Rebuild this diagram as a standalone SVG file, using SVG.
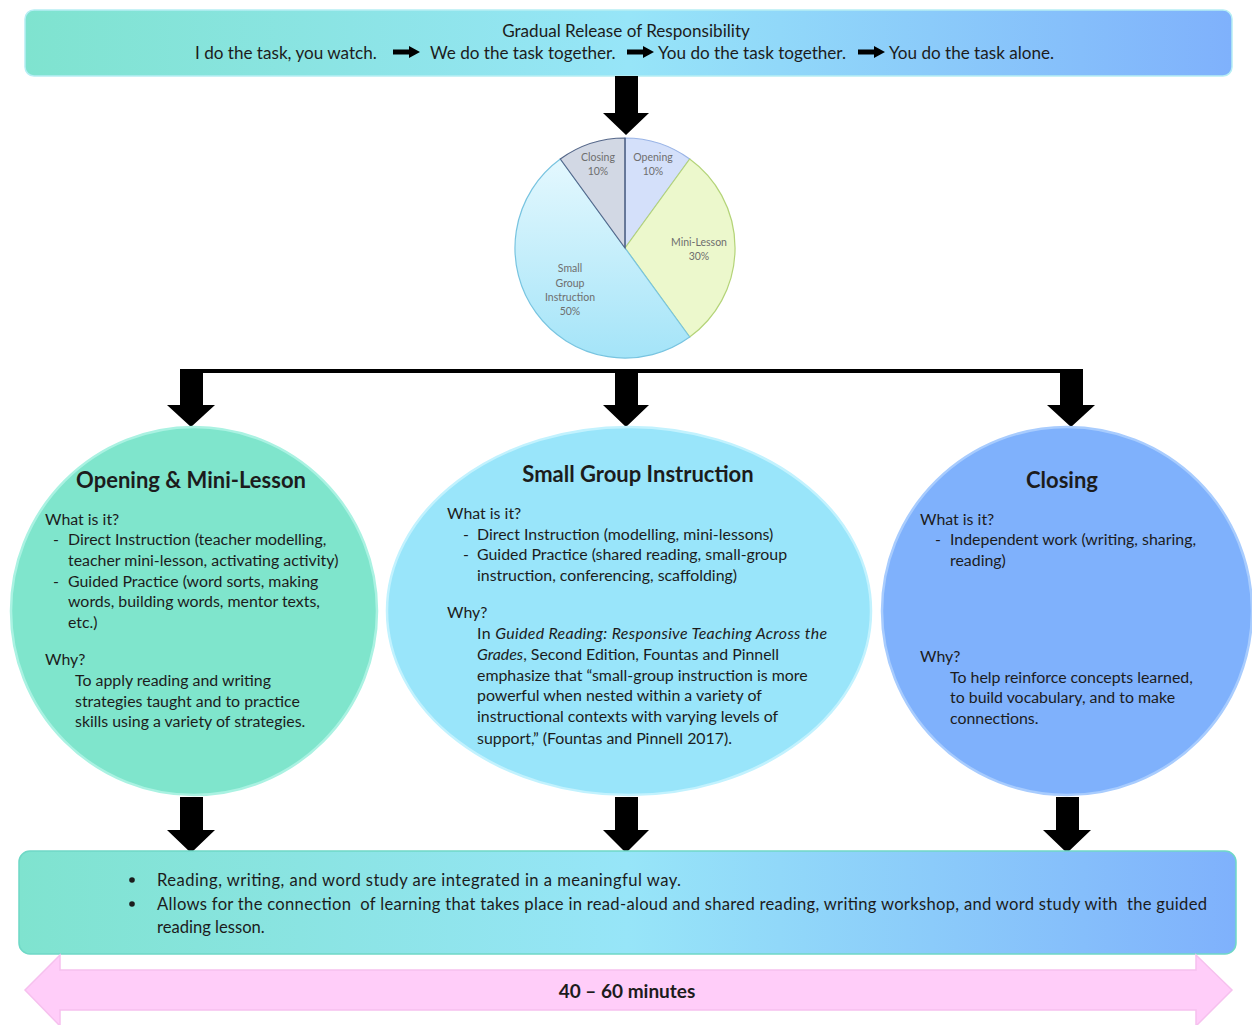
<svg xmlns="http://www.w3.org/2000/svg" xmlns:xlink="http://www.w3.org/1999/xlink" width="1252" height="1025" viewBox="0 0 1252 1025">
<defs>
<linearGradient id="band" x1="0" y1="0" x2="1" y2="0">
<stop offset="0" stop-color="#7fe3cf"/>
<stop offset="0.5" stop-color="#97e5f8"/>
<stop offset="1" stop-color="#7fb1fc"/>
</linearGradient>
<linearGradient id="sg" x1="0" y1="0" x2="0" y2="1">
<stop offset="0" stop-color="#e4f8fe"/>
<stop offset="1" stop-color="#a4e4f8"/>
</linearGradient>
<path id="sa" d="M0,-2.6 L16,-2.6 L16,-6 L27,0 L16,6 L16,2.6 L0,2.6 Z" fill="#000"/>
<style>
text{font-family:Lato,"Liberation Sans",sans-serif;fill:#1c1c1c}
.b{font-size:15.9px}
.t{font-size:22px;font-weight:bold;text-anchor:middle}
.pl{font-size:10.5px;fill:#6e6e6e;text-anchor:middle}
.h{font-size:16.6px}
.h2{font-size:17.1px}
.arr{fill:#000}
</style>
</defs>
<rect width="1252" height="1025" fill="#fff"/>

<g id="banner-top">
<rect x="25" y="10" width="1207" height="66" rx="9" fill="url(#band)" stroke="#b6eef4" stroke-width="1.5"/>
<text class="h2" x="626" y="37" text-anchor="middle">Gradual Release of Responsibility</text>
<text class="h2" x="195" y="59">I do the task, you watch.</text>
<use href="#sa" x="393" y="52"/>
<text class="h2" x="430" y="59">We do the task together.</text>
<use href="#sa" x="627" y="52"/>
<text class="h2" x="658" y="59">You do the task together.</text>
<use href="#sa" x="858" y="52"/>
<text class="h2" x="889" y="59">You do the task alone.</text>
</g>

<g id="pie">
<path d="M625,248 L625,138 A110,110 0 0 1 689.7,159 Z" fill="#d4e0fa" stroke="#9ab4e6" stroke-width="1.2"/>
<path d="M625,248 L689.7,159 A110,110 0 0 1 689.7,337 Z" fill="#ecf8cc" stroke="#b4d478" stroke-width="1.2"/>
<path d="M625,248 L689.7,337 A110,110 0 0 1 560.3,159 Z" fill="url(#sg)" stroke="#78c4e0" stroke-width="1.2"/>
<path d="M625,248 L560.3,159 A110,110 0 0 1 625,138 Z" fill="#d2d8e4" stroke="#56688a" stroke-width="1.2"/>
<line x1="625" y1="138" x2="625" y2="248" stroke="#56688a" stroke-width="1.2"/>
<text class="pl" x="598" y="161">Closing</text>
<text class="pl" x="598" y="175">10%</text>
<text class="pl" x="653" y="161">Opening</text>
<text class="pl" x="653" y="175">10%</text>
<text class="pl" x="699" y="246">Mini-Lesson</text>
<text class="pl" x="699" y="260">30%</text>
<text class="pl" x="570" y="272">Small</text>
<text class="pl" x="570" y="287">Group</text>
<text class="pl" x="570" y="301">Instruction</text>
<text class="pl" x="570" y="315">50%</text>
</g>

<g id="connectors">
<path class="arr" d="M615,76 L638,76 L638,113 L649,113 L626,135 L603,113 L615,113 Z"/>
<rect class="arr" x="180" y="369" width="903" height="4"/>
<path class="arr" d="M180,369 L203,369 L203,405 L215,405 L191,427 L167,405 L180,405 Z"/>
<path class="arr" d="M615,371 L638,371 L638,405 L649,405 L626,427 L603,405 L615,405 Z"/>
<path class="arr" d="M1060,369 L1083,369 L1083,405 L1095,405 L1071,427 L1047,405 L1060,405 Z"/>
<path class="arr" d="M180,797 L203,797 L203,830 L215,830 L191,853 L167,830 L180,830 Z"/>
<path class="arr" d="M615,797 L638,797 L638,830 L649,830 L626,853 L603,830 L615,830 Z"/>
<path class="arr" d="M1056,797 L1079,797 L1079,830 L1091,830 L1067,853 L1043,830 L1056,830 Z"/>
</g>

<g id="node-opening">
<ellipse cx="194" cy="611" rx="183" ry="184" fill="#7fe5cc" stroke="#aaf2e2" stroke-width="2.5"/>
<text class="t" x="191" y="488">Opening &amp; Mini-Lesson</text>
<text class="b" x="45" y="525">What is it?</text>
<text class="b" x="53" y="545">-</text>
<text class="b" x="68" y="545">Direct Instruction (teacher modelling,</text>
<text class="b" x="68" y="566">teacher mini-lesson, activating activity)</text>
<text class="b" x="53" y="587">-</text>
<text class="b" x="68" y="587">Guided Practice (word sorts, making</text>
<text class="b" x="68" y="607">words, building words, mentor texts,</text>
<text class="b" x="68" y="628">etc.)</text>
<text class="b" x="45" y="665">Why?</text>
<text class="b" x="75" y="686">To apply reading and writing</text>
<text class="b" x="75" y="707">strategies taught and to practice</text>
<text class="b" x="75" y="727">skills using a variety of strategies.</text>
</g>

<g id="node-small-group">
<ellipse cx="629" cy="611" rx="242" ry="184" fill="#99e5fa" stroke="#c2f2fe" stroke-width="2.5"/>
<text class="t" x="638" y="482">Small Group Instruction</text>
<text class="b" x="447" y="519">What is it?</text>
<text class="b" x="463" y="540">-</text>
<text class="b" x="477" y="540">Direct Instruction (modelling, mini-lessons)</text>
<text class="b" x="463" y="560">-</text>
<text class="b" x="477" y="560">Guided Practice (shared reading, small-group</text>
<text class="b" x="477" y="581">instruction, conferencing, scaffolding)</text>
<text class="b" x="447" y="618">Why?</text>
<text class="b" x="477" y="639" textLength="350" lengthAdjust="spacing">In <tspan font-style="italic">Guided Reading: Responsive Teaching Across the</tspan></text>
<text class="b" x="477" y="660"><tspan font-style="italic">Grades</tspan>, Second Edition, Fountas and Pinnell</text>
<text class="b" x="477" y="681">emphasize that “small-group instruction is more</text>
<text class="b" x="477" y="701">powerful when nested within a variety of</text>
<text class="b" x="477" y="722">instructional contexts with varying levels of</text>
<text class="b" x="477" y="744">support,” (Fountas and Pinnell 2017).</text>
</g>

<g id="node-closing">
<ellipse cx="1067" cy="611" rx="185" ry="184" fill="#7fb1fc" stroke="#a8ccfe" stroke-width="2.5"/>
<text class="t" x="1062" y="488">Closing</text>
<text class="b" x="920" y="525">What is it?</text>
<text class="b" x="935" y="545">-</text>
<text class="b" x="950" y="545">Independent work (writing, sharing,</text>
<text class="b" x="950" y="566">reading)</text>
<text class="b" x="920" y="662">Why?</text>
<text class="b" x="950" y="683">To help reinforce concepts learned,</text>
<text class="b" x="950" y="703">to build vocabulary, and to make</text>
<text class="b" x="950" y="724">connections.</text>
</g>

<g id="banner-bottom">
<rect x="19" y="851" width="1217" height="103" rx="11" fill="url(#band)" stroke="#6fd8c6" stroke-width="1.5"/>
<circle cx="132" cy="880" r="2.8" fill="#1c1c1c"/>
<circle cx="132" cy="904" r="2.8" fill="#1c1c1c"/>
<text class="h" x="157" y="886" textLength="524" lengthAdjust="spacing">Reading, writing, and word study are integrated in a meaningful way.</text>
<text class="h" x="157" y="910" xml:space="preserve" textLength="1050" lengthAdjust="spacing">Allows for the connection  of learning that takes place in read-aloud and shared reading, writing workshop, and word study with  the guided</text>
<text class="h" x="157" y="933">reading lesson.</text>
</g>

<g id="duration-arrow">
<path d="M25,990 L60,955 L60,970 L1196,970 L1196,955 L1232,990 L1196,1026 L1196,1010 L60,1010 L60,1026 Z" fill="#ffcdf9" stroke="#f6c0ee" stroke-width="1.5"/>
<text x="627" y="998" text-anchor="middle" font-size="19" font-weight="bold">40 – 60 minutes</text>
</g>
</svg>
